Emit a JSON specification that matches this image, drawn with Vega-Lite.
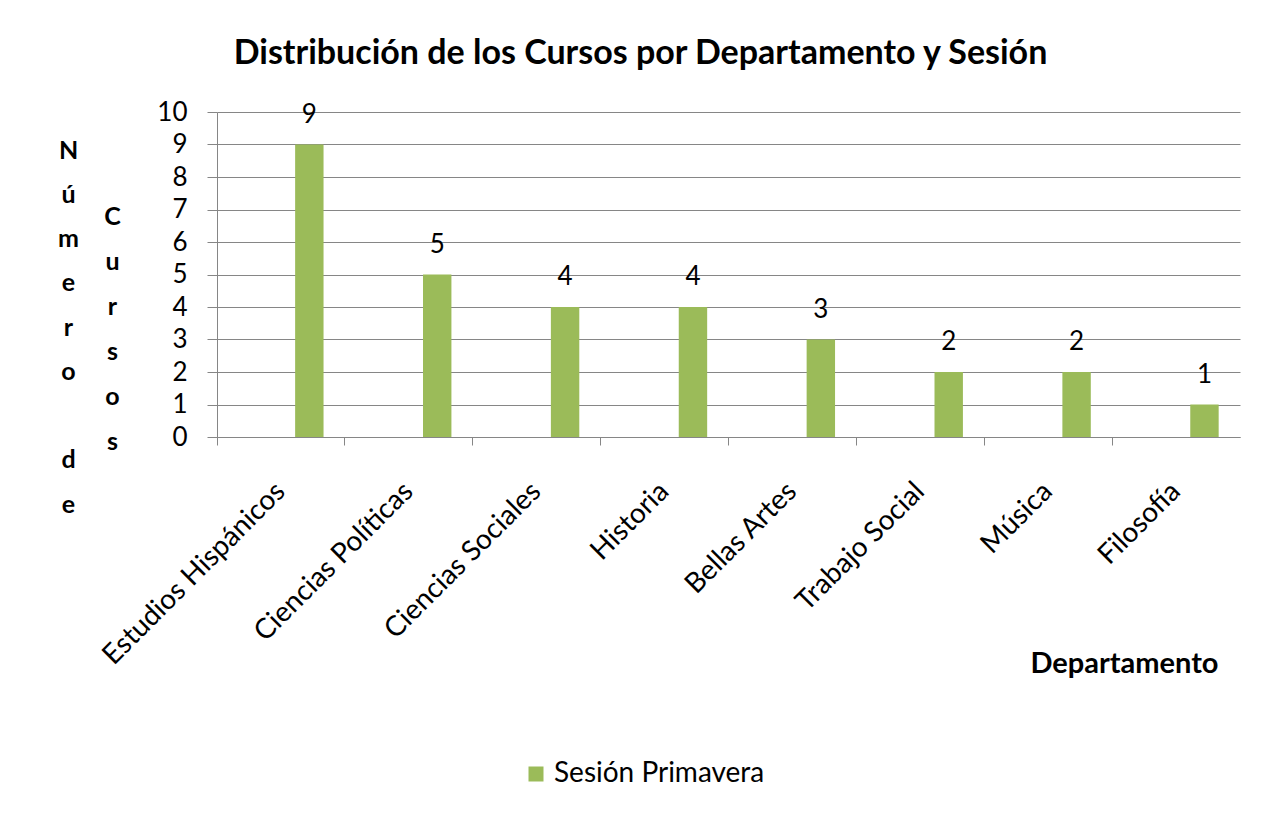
{
  "$schema": "https://vega.github.io/schema/vega-lite/v6.json",
  "width": 1023,
  "height": 325,
  "autosize": {"type": "none"},
  "padding": {"left": 217, "top": 112, "right": 28, "bottom": 402},
  "background": "white",
  "config": {"font": "Lato", "view": {"stroke": null}},
  "title": {
    "text": "Distribución de los Cursos por Departamento y Sesión",
    "font": "Lato",
    "fontSize": 34,
    "fontWeight": "bold",
    "color": "#000000",
    "anchor": "middle",
    "baseline": "alphabetic",
    "dx": -88,
    "offset": 1,
    "limit": 0
  },
  "data": {
    "values": [
      {"departamento": "Estudios Hispánicos", "cursos": 9, "sesion": "Sesión Primavera"},
      {"departamento": "Ciencias Políticas", "cursos": 5, "sesion": "Sesión Primavera"},
      {"departamento": "Ciencias Sociales", "cursos": 4, "sesion": "Sesión Primavera"},
      {"departamento": "Historia", "cursos": 4, "sesion": "Sesión Primavera"},
      {"departamento": "Bellas Artes", "cursos": 3, "sesion": "Sesión Primavera"},
      {"departamento": "Trabajo Social", "cursos": 2, "sesion": "Sesión Primavera"},
      {"departamento": "Música", "cursos": 2, "sesion": "Sesión Primavera"},
      {"departamento": "Filosofía", "cursos": 1, "sesion": "Sesión Primavera"}
    ]
  },
  "encoding": {
    "x": {
      "field": "departamento",
      "type": "nominal",
      "sort": null,
      "scale": {"paddingInner": 0, "paddingOuter": 0},
      "axis": {
        "bandPosition": 0,
        "labelOffset": 0,
        "labelAngle": -45,
        "labelAlign": "right",
        "labelBaseline": "middle",
        "labelPadding": 42,
        "labelLimit": 0,
        "labelFont": "Lato",
        "labelFontSize": 28,
        "labelColor": "#000000",
        "tickSize": 8,
        "tickColor": "#868686",
        "domainColor": "#868686",
        "grid": false,
        "title": "Departamento",
        "titleFont": "Lato",
        "titleFontSize": 29,
        "titleFontWeight": "bold",
        "titleColor": "#000000",
        "titleX": 1001,
        "titleY": 226,
        "titleAlign": "right",
        "titleBaseline": "middle",
        "titleAngle": 0
      }
    }
  },
  "layer": [
    {
      "mark": {"type": "bar", "width": {"band": 0.2222}, "xOffset": 28.4},
      "encoding": {
        "y": {
          "field": "cursos",
          "type": "quantitative",
          "scale": {"domain": [0, 10]},
          "axis": {
            "values": [0, 1, 2, 3, 4, 5, 6, 7, 8, 9, 10],
            "grid": true,
            "gridColor": "#868686",
            "domainColor": "#868686",
            "tickColor": "#868686",
            "tickSize": 10,
            "labelFont": "Lato",
            "labelFontSize": 26,
            "labelColor": "#000000",
            "labelPadding": 20,
            "title": ["C", "u", "r", "s", "o", "s"],
            "titleAngle": 0,
            "titleX": -105,
            "titleY": 92,
            "titleAlign": "center",
            "titleBaseline": "top",
            "titleLineHeight": 45,
            "titleFont": "Lato",
            "titleFontSize": 25,
            "titleFontWeight": "bold",
            "titleColor": "#000000"
          }
        },
        "color": {
          "field": "sesion",
          "type": "nominal",
          "scale": {"range": ["#9BBB59"]},
          "legend": {
            "orient": "none",
            "legendX": 305,
            "legendY": 648,
            "title": null,
            "symbolType": "square",
            "symbolSize": 225,
            "symbolStrokeWidth": 0,
            "labelFont": "Lato",
            "labelFontSize": 28,
            "labelLimit": 0,
            "labelColor": "#000000",
            "padding": 0
          }
        }
      }
    },
    {
      "mark": {"type": "text", "xOffset": 28.4, "dy": -22, "baseline": "alphabetic", "font": "Lato", "fontSize": 26, "color": "#000000"},
      "encoding": {
        "y": {
          "field": "cursos",
          "type": "quantitative",
          "axis": {
            "orient": "left",
            "labels": false,
            "ticks": false,
            "domain": false,
            "grid": false,
            "title": ["N", "ú", "m", "e", "r", "o", "\u2800", "d", "e"],
            "titleAngle": 0,
            "titleX": -149,
            "titleY": 26,
            "titleAlign": "center",
            "titleBaseline": "top",
            "titleLineHeight": 44.25,
            "titleFont": "Lato",
            "titleFontSize": 25,
            "titleFontWeight": "bold",
            "titleColor": "#000000"
          }
        },
        "text": {"field": "cursos", "type": "quantitative"}
      }
    }
  ],
  "resolve": {"axis": {"y": "independent"}}
}
